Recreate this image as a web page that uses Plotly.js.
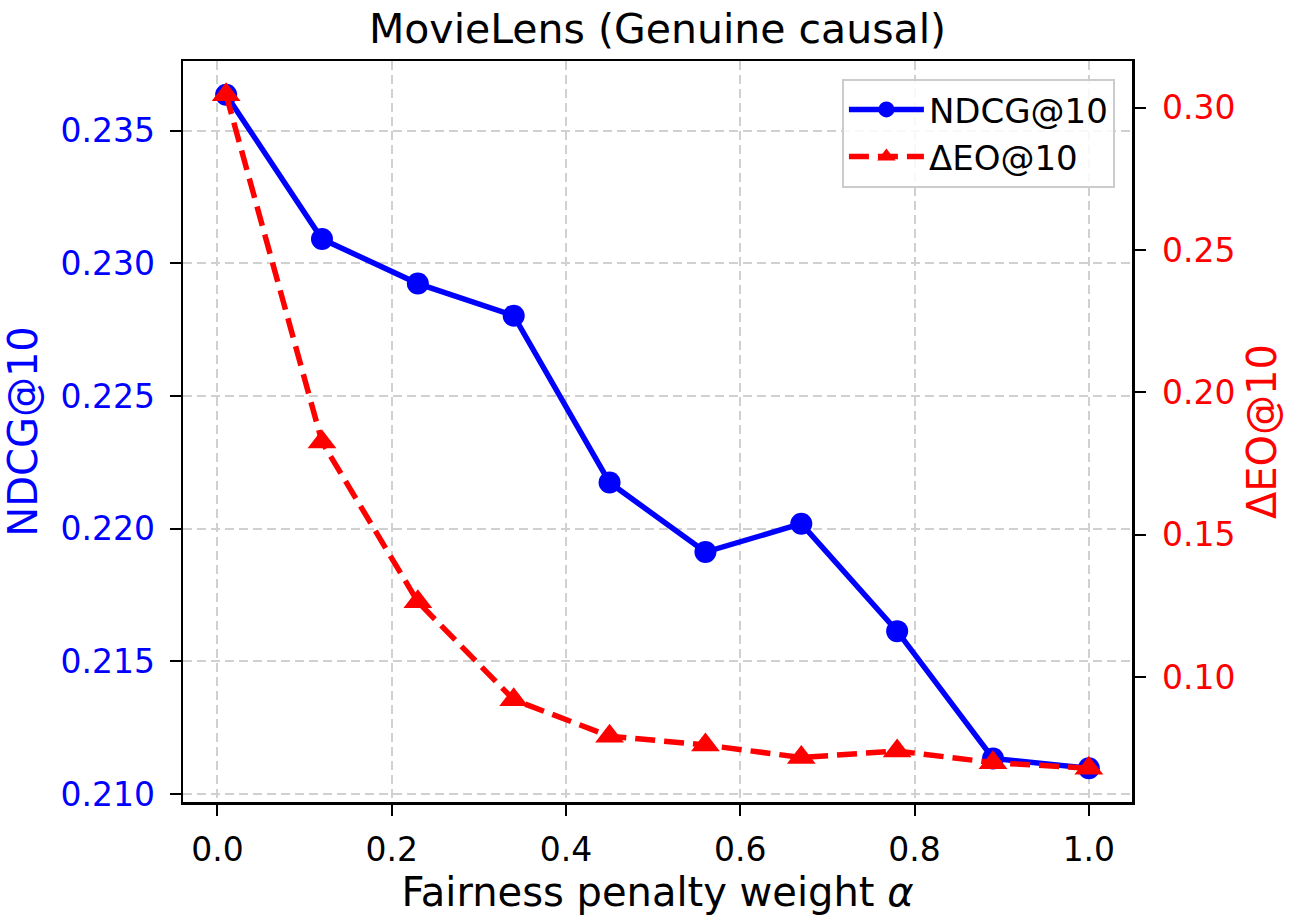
<!DOCTYPE html>
<html>
<head>
<meta charset="utf-8">
<script src="https://cdn.plot.ly/plotly-3.0.1.min.js"></script>
<style>html,body{margin:0;padding:0;background:#fff;}#chart{width:1292px;height:921px;}</style>
</head>
<body>
<div id="chart"></div>
<script>
const alphaValues = [0.01, 0.12, 0.23, 0.34, 0.45, 0.56, 0.67, 0.78, 0.89, 1.0];
const ndcgValues = [0.23636, 0.23092, 0.22924, 0.22803, 0.22174, 0.21912, 0.22019, 0.21614, 0.21134, 0.21097];
const deltaEOValues = [0.3046, 0.1826, 0.1264, 0.0920, 0.0792, 0.0761, 0.0717, 0.0740, 0.0699, 0.0679];
const xTickVals = [0.0, 0.2, 0.4, 0.6, 0.8, 1.0];
const xTickText = ['0.0', '0.2', '0.4', '0.6', '0.8', '1.0'];
const ndcgTickVals = [0.210, 0.215, 0.220, 0.225, 0.230, 0.235];
const ndcgTickText = ['0.210', '0.215', '0.220', '0.225', '0.230', '0.235'];
const eoTickVals = [0.10, 0.15, 0.20, 0.25, 0.30];
const eoTickText = ['0.10', '0.15', '0.20', '0.25', '0.30'];
const titleText = 'MovieLens (Genuine causal)';
const xTitle = 'Fairness penalty weight <i>α</i>';
const ndcgName = 'NDCG@10';
const eoName = 'ΔEO@10';

function padRange(vals, frac) {
  const mn = Math.min(...vals), mx = Math.max(...vals);
  const d = mx - mn;
  return [mn - frac * d, mx + frac * d];
}

const FONT = 'DejaVu Sans, sans-serif';
const BLUE = '#0000ff';
const RED = '#ff0000';

const traces = [
  {
    x: alphaValues, y: ndcgValues, name: ndcgName, type: 'scatter', mode: 'lines+markers',
    line: {color: BLUE, width: 5.5},
    marker: {symbol: 'circle', size: 22, color: BLUE},
    yaxis: 'y'
  },
  {
    x: alphaValues, y: deltaEOValues, name: eoName, type: 'scatter', mode: 'lines+markers',
    line: {color: RED, width: 5.5, dash: '20px,9px'},
    marker: {symbol: 'triangle-up', size: 25, color: RED},
    yaxis: 'y2'
  }
];

const gridCommon = {showgrid: true, gridcolor: '#d0d0d0', gridwidth: 2, griddash: '9px,5px'};

const layout = {
  width: 1292, height: 921,
  paper_bgcolor: '#ffffff', plot_bgcolor: '#ffffff',
  margin: {l: 183, r: 160, t: 61, b: 119, pad: 0},
  font: {family: FONT, size: 33, color: '#000'},
  title: {text: titleText, font: {family: FONT, size: 41, color: '#000'}, x: 0.5, xref: 'paper', xanchor: 'center', y: 1 - 29/921, yref: 'container', yanchor: 'middle'},
  xaxis: Object.assign({
    range: padRange(alphaValues, 0.05), tickmode: 'array', tickvals: xTickVals, ticktext: xTickText,
    ticks: 'outside', ticklen: 11, tickwidth: 2, tickcolor: '#000',
    showline: true, linecolor: '#000', linewidth: 2.5, mirror: true, zeroline: false,
    tickfont: {family: FONT, size: 33, color: '#000'}, ticklabelstandoff: 6,
    title: {text: xTitle, font: {family: FONT, size: 40, color: '#000'}, standoff: 0}
  }, gridCommon),
  yaxis: Object.assign({
    range: padRange(ndcgValues, 0.05), tickmode: 'array', tickvals: ndcgTickVals, ticktext: ndcgTickText,
    ticks: 'outside', ticklen: 11, tickwidth: 2, tickcolor: '#000',
    showline: true, linecolor: '#000', linewidth: 2.5, zeroline: false,
    tickfont: {family: FONT, size: 33, color: BLUE}, ticklabelstandoff: 8,
    title: {text: ndcgName, font: {family: FONT, size: 40, color: BLUE}, standoff: 12}
  }, gridCommon),
  yaxis2: {
    range: padRange(deltaEOValues, 0.05), tickmode: 'array', tickvals: eoTickVals, ticktext: eoTickText,
    overlaying: 'y', side: 'right', showgrid: false, zeroline: false,
    ticks: 'outside', ticklen: 11, tickwidth: 2, tickcolor: '#000',
    showline: true, linecolor: '#000', linewidth: 2.5,
    tickfont: {family: FONT, size: 33, color: RED}, ticklabelstandoff: 10,
    title: {text: eoName, font: {family: FONT, size: 40, color: RED}, standoff: 14}
  },
  legend: {
    x: 0.982, y: 0.976, xanchor: 'right', yanchor: 'top', xref: 'paper', yref: 'paper',
    bgcolor: 'rgba(255,255,255,0.85)', bordercolor: '#cccccc', borderwidth: 2,
    font: {family: FONT, size: 34, color: '#000'}, itemwidth: 75, tracegroupgap: 0
  },
  showlegend: true
};

Plotly.newPlot('chart', traces, layout, {staticPlot: true, displayModeBar: false});
</script>
</body>
</html>
